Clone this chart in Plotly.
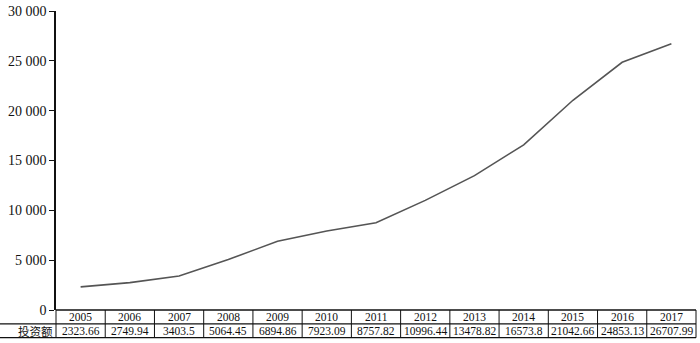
import plotly.graph_objects as go

years = ["2005", "2006", "2007", "2008", "2009", "2010", "2011", "2012", "2013", "2014", "2015", "2016", "2017"]
values = [2323.66, 2749.94, 3403.5, 5064.45, 6894.86, 7923.09, 8757.82, 10996.44, 13478.82, 16573.8, 21042.66, 24853.13, 26707.99]
value_labels = ["2323.66", "2749.94", "3403.5", "5064.45", "6894.86", "7923.09", "8757.82", "10996.44", "13478.82", "16573.8", "21042.66", "24853.13", "26707.99"]
row_label = "投资额"
ytick_vals = [0, 5000, 10000, 15000, 20000, 25000, 30000]
ytick_text = ["0", "5 000", "10 000", "15 000", "20 000", "25 000", "30 000"]

W, H = 700, 343
L, R, T, B = 56, 4, 8, 33
pw = W - L - R
ph = H - T - B

def px_y(py):
    return (H - B - py) / ph

def px_x(px):
    return (px - L) / pw

SERIF = "Liberation Serif"
fig = go.Figure()
fig.add_trace(go.Scatter(x=years, y=values, mode="lines",
                         line=dict(color="#555555", width=1.6), hoverinfo="skip"))

n = len(years)
row1_top = px_y(310)
row1_bot = px_y(324)
row2_bot = px_y(338)
shapes = []
lc = "#111111"
shapes.append(dict(type="line", xref="paper", yref="paper", x0=0, x1=1, y0=row1_top, y1=row1_top, line=dict(color=lc, width=1.5)))
shapes.append(dict(type="line", xref="paper", yref="paper", x0=px_x(0), x1=1, y0=row1_bot, y1=row1_bot, line=dict(color=lc, width=1.2)))
shapes.append(dict(type="line", xref="paper", yref="paper", x0=px_x(0), x1=1, y0=row2_bot, y1=row2_bot, line=dict(color=lc, width=1.2)))
for k in range(n + 1):
    shapes.append(dict(type="line", xref="paper", yref="paper", x0=k / n, x1=k / n, y0=row1_top, y1=row2_bot, line=dict(color=lc, width=1)))

ann = []
for i, (yr, vl) in enumerate(zip(years, value_labels)):
    ann.append(dict(x=i, xref="x", y=(row1_top + row1_bot) / 2, yref="paper", text=yr, showarrow=False,
                    font=dict(family=SERIF, size=11.5, color="#111"), xanchor="center", yanchor="middle"))
    ann.append(dict(x=i, xref="x", y=(row1_bot + row2_bot) / 2, yref="paper", text=vl, showarrow=False,
                    font=dict(family=SERIF, size=11.5, color="#111"), xanchor="center", yanchor="middle"))
ann.append(dict(x=px_x(35), xref="paper", y=(row1_bot + row2_bot) / 2, yref="paper", text=row_label, showarrow=False,
                font=dict(family="Noto Sans CJK SC", size=11.5, color="#111"), xanchor="center", yanchor="middle"))

fig.update_layout(
    width=W, height=H, margin=dict(l=L, r=R, t=T, b=B),
    plot_bgcolor="white", paper_bgcolor="white", showlegend=False,
    shapes=shapes, annotations=ann,
    xaxis=dict(type="category", range=[-0.5, n - 0.5], showticklabels=False, showgrid=False,
               zeroline=False, showline=False, ticks=""),
    yaxis=dict(range=[0, 30000], tickvals=ytick_vals, ticktext=ytick_text, showgrid=False, zeroline=False,
               showline=True, linecolor="#111", linewidth=1.5, ticks="outside", ticklen=5, tickwidth=1.3,
               tickcolor="#111", tickfont=dict(family=SERIF, size=14, color="#111")),
)
fig.write_html("out.html", config={"displayModeBar": False},
               post_script="document.body.style.margin='0';document.body.style.overflow='hidden';")
